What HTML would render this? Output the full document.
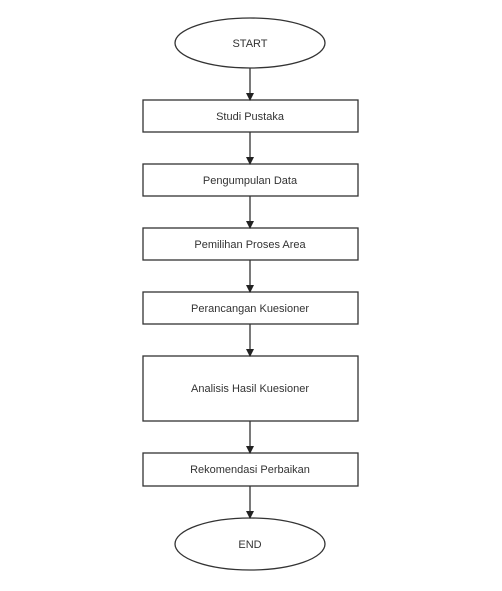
<html><body style="margin:0;background:#fff">
<svg width="502" height="591" xmlns="http://www.w3.org/2000/svg" font-family="Liberation Sans, sans-serif" font-size="11" fill="none">
<defs><marker id="a" markerWidth="8" markerHeight="8" refX="7" refY="4" orient="auto" markerUnits="userSpaceOnUse"><path d="M0,0 L8,4 L0,8 z" fill="#222"/></marker></defs>
<g stroke="#333" stroke-width="1.3">
<ellipse cx="250" cy="43" rx="75" ry="25"/>
<rect x="143" y="100" width="215" height="32"/>
<rect x="143" y="164" width="215" height="32"/>
<rect x="143" y="228" width="215" height="32"/>
<rect x="143" y="292" width="215" height="32"/>
<rect x="143" y="356" width="215" height="65"/>
<rect x="143" y="453" width="215" height="33"/>
<ellipse cx="250" cy="544" rx="75" ry="26"/>
<g marker-end="url(#a)">
<line x1="250" y1="68" x2="250" y2="100"/>
<line x1="250" y1="132" x2="250" y2="164"/>
<line x1="250" y1="196" x2="250" y2="228"/>
<line x1="250" y1="260" x2="250" y2="292"/>
<line x1="250" y1="324" x2="250" y2="356"/>
<line x1="250" y1="421" x2="250" y2="453"/>
<line x1="250" y1="486" x2="250" y2="518"/>
</g></g>
<g fill="#333" text-anchor="middle">
<text x="250" y="47">START</text>
<text x="250" y="120">Studi Pustaka</text>
<text x="250" y="184">Pengumpulan Data</text>
<text x="250" y="248">Pemilihan Proses Area</text>
<text x="250" y="312">Perancangan Kuesioner</text>
<text x="250" y="392">Analisis Hasil Kuesioner</text>
<text x="250" y="473">Rekomendasi Perbaikan</text>
<text x="250" y="548">END</text>
</g>
</svg>
</body></html>
